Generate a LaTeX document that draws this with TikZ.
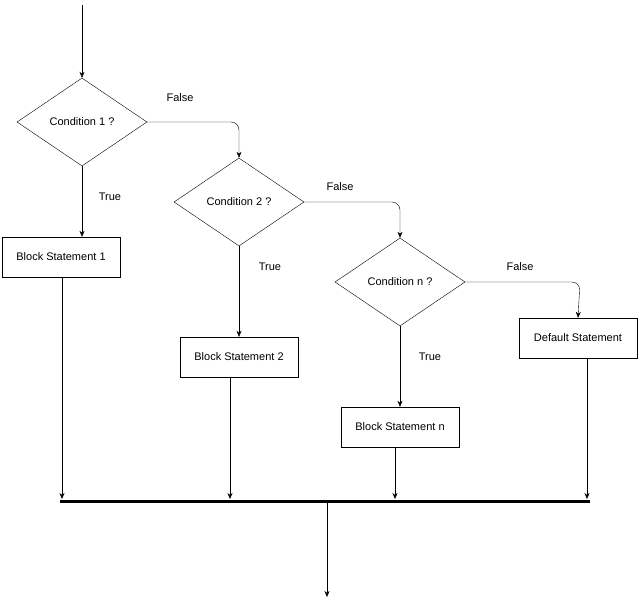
\documentclass[tikz,border=0pt]{standalone}
\usepackage{fontspec}
\setmainfont{Liberation Sans}
\usetikzlibrary{shapes.geometric,arrows.meta}
\begin{document}
\begin{tikzpicture}[x=1pt,y=-1pt,
  font=\fontsize{11}{13}\selectfont,
  dia/.style={draw,diamond,aspect=1.47,minimum width=130pt,minimum height=88pt,inner sep=0pt},
  blk/.style={draw,rectangle,minimum width=118pt,minimum height=40pt,inner sep=0pt},
  arr/.style={-{Stealth[length=6pt,width=5pt]}},
  lbl/.style={inner sep=1pt}]
\useasboundingbox (0,0) rectangle (641,606);
\node[dia] (d1) at (82,122) {Condition 1 ?};
\node[dia] (d2) at (239,202) {Condition 2 ?};
\node[dia] (d3) at (400,282) {Condition n ?};
\node[blk] (b1) at (61,257) {Block Statement 1};
\node[blk] (b2) at (239,357) {Block Statement 2};
\node[blk] (bn) at (400,427) {Block Statement n};
\node[blk] (bd) at (578,338) {Default Statement};
\coordinate (start) at (82,5);
\coordinate (busL) at (60,501);
\coordinate (busR) at (590,501);
\coordinate (busM) at (327,501);
\coordinate (endp) at (327,597);
\draw[arr] (start) -- (d1.north);
\draw[arr,rounded corners=8pt] (d1.east) -- (239,122) -- (d2.north);
\draw[arr,rounded corners=8pt] (d2.east) -- (400,202) -- (d3.north);
\draw[arr,rounded corners=8pt] (d3.east) -- (580,282) -- (bd.north);
\draw[arr] (d1.south) -- (b1.north -| d1.south);
\draw[arr] (d2.south) -- (b2.north);
\draw[arr] (d3.south) -- (bn.north);
\node[lbl] (f1) at (180,98) {False};
\node[lbl] (f2) at (340,187) {False};
\node[lbl] (f3) at (520,267) {False};
\node[lbl] (t1) at (110,197) {True};
\node[lbl] (t2) at (270,267) {True};
\node[lbl] (t3) at (430,357) {True};
\draw[line width=3pt] (busL) -- (busR);
\draw[arr] (62,277) -- (62,499);
\draw[arr] (230,377) -- (230,499);
\draw[arr] (395,447) -- (395,499);
\draw[arr] (587,358) -- (587,499);
\draw[arr] (busM) -- (endp);
\end{tikzpicture}
\end{document}
